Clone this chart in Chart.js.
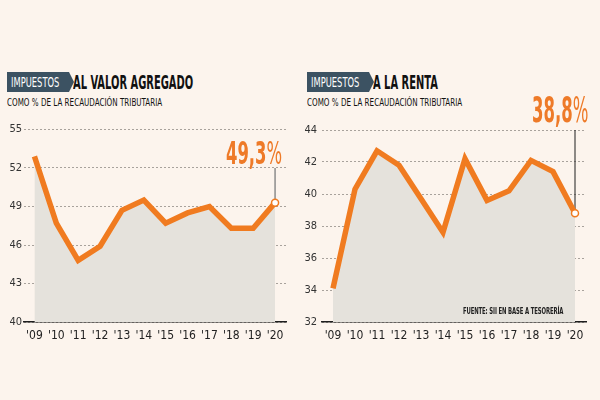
<!DOCTYPE html>
<html><head><meta charset="utf-8">
<script src="https://cdn.jsdelivr.net/npm/chart.js@4/dist/chart.umd.min.js"></script>
<style>
html,body{margin:0;padding:0;background:#fcf4ed;}
#wrap{position:relative;width:600px;height:400px;overflow:hidden;background:#fcf4ed;font-family:"DejaVu Sans Condensed","DejaVu Sans",sans-serif;}
.panel{position:absolute;top:110px;width:300px;height:240px;}
.tag{position:absolute;top:72px;height:20px;width:62px;background:#3c5262;}
.tag:after{content:"";position:absolute;right:-5px;top:0;border-top:10px solid transparent;border-bottom:10px solid transparent;border-left:5px solid #3c5262;}
.tag span{position:absolute;left:4px;top:0;color:#fff;font-size:14.5px;line-height:20px;transform:scaleX(0.64);transform-origin:left top;white-space:nowrap;}
.title{position:absolute;top:70px;font-size:19px;font-weight:bold;color:#111;line-height:24px;transform:scaleX(0.58);transform-origin:left top;white-space:nowrap;}
.sub{position:absolute;top:96px;font-size:10.5px;color:#111;line-height:13px;transform:scaleX(0.76);transform-origin:left top;white-space:nowrap;}
.big{position:absolute;font-weight:bold;color:#ee7a28;transform-origin:left top;white-space:nowrap;}
.big span{font-weight:normal;}
.src{position:absolute;left:463px;top:306px;font-size:9px;font-weight:bold;color:#222;transform:scaleX(0.66);transform-origin:left top;white-space:nowrap;letter-spacing:-0.2px;}
</style></head>
<body><div id="wrap">
<div class="tag" style="left:7px"><span>IMPUESTOS</span></div>
<div class="title" style="left:73px">AL VALOR AGREGADO</div>
<div class="sub" style="left:7px">COMO % DE LA RECAUDACIÓN TRIBUTARIA</div>
<div class="tag" style="left:307px"><span>IMPUESTOS</span></div>
<div class="title" style="left:373px">A LA RENTA</div>
<div class="sub" style="left:307px">COMO % DE LA RECAUDACIÓN TRIBUTARIA</div>
<div class="panel" style="left:0"><canvas id="c1" width="300" height="240"></canvas></div>
<div class="panel" style="left:300px"><canvas id="c2" width="300" height="240"></canvas></div>
<div class="big" id="b1" style="left:226px;top:137px;font-size:32px;line-height:32px;transform:scaleX(0.57)"></div>
<div class="big" id="b2" style="left:532px;top:92px;font-size:36px;line-height:36px;transform:scaleX(0.51)"></div>
<div class="src">FUENTE: SII EN BASE A TESORERÍA</div>
</div>
<script>
const years = ["'09","'10","'11","'12","'13","'14","'15","'16","'17","'18","'19","'20"];
const ivaValues = [52.9,47.7,44.8,45.9,48.7,49.5,47.7,48.5,49.0,47.3,47.3,49.3];
const rentaValues = [34.1,40.3,42.7,41.8,39.7,37.6,42.2,39.6,40.2,42.1,41.4,38.8];
const ivaTicks = [40,43,46,49,52,55];
const rentaTicks = [32,34,36,38,40,42,44];

const FONT = "'DejaVu Sans Condensed','DejaVu Sans',sans-serif";
const fmt = v => v.toFixed(1).replace('.', ',');
document.getElementById('b1').innerHTML = fmt(ivaValues[11]) + '<span>%</span>';
document.getElementById('b2').innerHTML = fmt(rentaValues[11]) + '<span>%</span>';

const leader = {
  id: 'leader',
  beforeDatasetsDraw(chart, args, opts) {
    const meta = chart.getDatasetMeta(0);
    const p = meta.data[meta.data.length - 1];
    const yTop = chart.scales.y.getPixelForValue(opts.top);
    const ctx = chart.ctx;
    ctx.save();
    ctx.strokeStyle = opts.color;
    ctx.lineWidth = opts.width;
    ctx.beginPath();
    ctx.moveTo(p.x, p.y);
    ctx.lineTo(p.x, yTop);
    ctx.stroke();
    ctx.restore();
  }
};

function makeChart(id, values, ticks, yWidth, yPad, padTop, leaderOpts) {
  const n = values.length;
  return new Chart(document.getElementById(id), {
    type: 'line',
    data: {
      labels: years,
      datasets: [{
        data: values,
        borderColor: '#f07b20',
        borderWidth: 5.5,
        backgroundColor: '#e5e2dc',
        fill: 'start',
        tension: 0,
        borderJoinStyle: 'miter',
        pointRadius: ctx => ctx.dataIndex === n - 1 ? 3.5 : 0,
        pointBackgroundColor: '#fff',
        pointBorderColor: '#f07b20',
        pointBorderWidth: 1.5
      }]
    },
    options: {
      responsive: false,
      animation: false,
      layout: { padding: { top: padTop, right: 14, left: 0, bottom: 0 } },
      plugins: { legend: { display: false }, tooltip: { enabled: false }, leader: leaderOpts },
      scales: {
        x: {
          type: 'category',
          offset: true,
          grid: { display: false, drawTicks: false },
          border: { display: true, color: '#1e1e1e', width: 1.5 },
          ticks: { color: '#222', font: { family: FONT, size: 12 }, padding: 7, maxRotation: 0, autoSkip: false },
          afterFit: s => { s.height = 28; }
        },
        y: {
          min: ticks[0], max: ticks[ticks.length - 1],
          afterBuildTicks: s => { s.ticks = ticks.map(v => ({ value: v })); },
          grid: { color: '#a8a29c', lineWidth: 1, drawTicks: false },
          border: { display: false, dash: [2, 2] },
          ticks: { color: '#333', font: { family: FONT, size: 11 }, padding: yPad },
          afterFit: s => { s.width = yWidth; }
        }
      }
    },
    plugins: [leader]
  });
}
Chart.defaults.font.family = FONT;
makeChart('c1', ivaValues, ivaTicks, 23.5, 1.5, 19.5, { top: 52, color: '#8c8c8c', width: 1.5 });
makeChart('c2', rentaValues, rentaTicks, 22, 5, 20, { top: 44, color: '#1e1e1e', width: 1 });
</script>
</body></html>
